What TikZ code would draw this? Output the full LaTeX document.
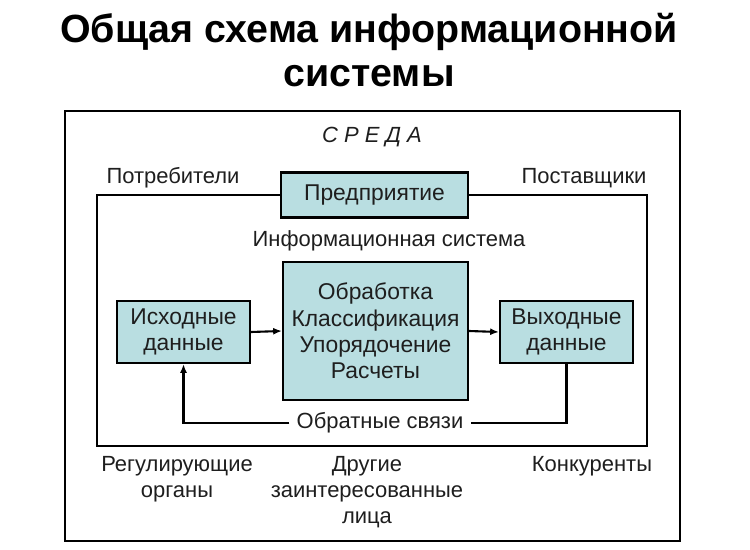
\documentclass[tikz,border=0pt]{standalone}
\usepackage{fontspec}
\setmainfont{Liberation Sans}
\usetikzlibrary{arrows.meta}
\definecolor{boxfill}{RGB}{185,222,225}
\definecolor{txt}{RGB}{30,30,30}

\begin{document}
\begin{tikzpicture}[x=0.02cm,y=-0.02cm,
	box/.style={rectangle, draw=black, line width=1.2pt, fill=boxfill, align=center, font=\fontsize{13}{15}\selectfont, text=txt, inner sep=0},
	lab/.style={align=center, font=\fontsize{12.5}{15}\selectfont, text=txt, inner sep=0},
	frame/.style={draw=black, line width=1.2pt},
	flow/.style={line width=1.2pt, -{Latex[length=5pt,width=4pt]}}]

	\useasboundingbox (0,0) rectangle (750,550);

	%title
	\node[font=\fontsize{22.4}{25}\selectfont\bfseries, align=center, inner sep=0] (title) at (369,50) {Общая схема информационной\\системы};

	%environment
	\draw[frame] (65,111) rectangle (680,541);
	\node[lab, font=\fontsize{12.5}{15}\selectfont\itshape] (env) at (372,137) {С Р Е Д А};
	\node[lab] (cons) at (173,178) {Потребители};
	\node[lab] (supp) at (584,178) {Поставщики};

	%enterprise and the system boundary
	\node[box, minimum width=3.74cm, minimum height=0.9cm] (firm) at (374.5,195) {Предприятие};
	\draw[frame] (firm.west) -- (97,195) -- (97,446) -- (647,446) -- (647,195) -- (firm.east);
	\node[lab] (is) at (389,241) {Информационная система};

	%data flow
	\node[box, minimum width=2.66cm, minimum height=1.24cm] (ind) at (183.5,332) {Исходные\\данные};
	\node[box, minimum width=3.7cm, minimum height=2.76cm] (proc) at (375.5,331) {Обработка\\Классификация\\Упорядочение\\Расчеты};
	\node[box, minimum width=2.66cm, minimum height=1.24cm] (outd) at (566.5,332) {Выходные\\данные};
	\draw[flow] (ind.east) -- (proc.west);
	\draw[flow] (proc.east) -- (outd.west);

	%feedback
	\node[lab, inner sep=4pt] (fb) at (380,423) {Обратные связи};
	\draw[frame] (outd.south) |- (fb.east);
	\draw[flow] (fb.west) -| (ind.south);

	%other parties
	\node[lab] (reg) at (177,479) {Регулирующие\\органы};
	\node[lab] (other) at (367,492) {Другие\\заинтересованные\\лица};
	\node[lab] (comp) at (592,466) {Конкуренты};
\end{tikzpicture}
\end{document}
